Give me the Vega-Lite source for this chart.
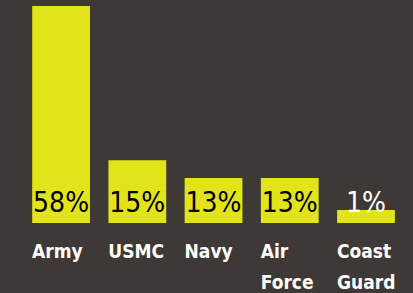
{
  "$schema": "https://vega.github.io/schema/vega-lite/v6.json",
  "width": 413,
  "height": 223,
  "padding": {"left": 0, "top": 0, "right": 0, "bottom": 70},
  "autosize": {"type": "none"},
  "background": "#3e3936",
  "config": {"view": {"stroke": null}},
  "data": {"values": [
    {"branch": "Army", "value": 58, "label": "58%"},
    {"branch": "USMC", "value": 16.8, "label": "15%"},
    {"branch": "Navy", "value": 12, "label": "13%"},
    {"branch": "Air Force", "value": 12, "label": "13%"},
    {"branch": "Coast Guard", "value": 3.5, "label": "1%"}
  ]},
  "encoding": {
    "x": {
      "field": "branch", "type": "nominal", "sort": null,
      "scale": {"paddingInner": 0.242, "paddingOuter": 0.33, "align": 0.64},
      "axis": {
        "title": null, "domain": false, "ticks": false, "tickSize": 0,
        "labelAngle": 0, "labelAlign": "left", "labelOffset": -29,
        "labelBaseline": "alphabetic", "labelPadding": 34,
        "labelFont": "DejaVu Sans Condensed",
        "labelFontWeight": "bold", "labelFontSize": 19, "labelColor": "#ffffff",
        "labelLineHeight": 31,
        "labelExpr": "split(datum.label, ' ')"
      }
    }
  },
  "layer": [
    {
      "mark": {"type": "bar", "color": "#e1e419"},
      "encoding": {
        "y": {"field": "value", "type": "quantitative", "scale": {"domain": [0, 59.6], "nice": false}, "axis": null}
      }
    },
    {
      "mark": {"type": "text", "baseline": "alphabetic", "dy": -11, "fontSize": 28,
        "font": "DejaVu Sans Condensed"},
      "encoding": {
        "y": {"datum": 0, "type": "quantitative"},
        "text": {"field": "label"},
        "color": {"condition": {"test": "datum.value < 5", "value": "#ffffff"}, "value": "#000000"}
      }
    }
  ]
}
